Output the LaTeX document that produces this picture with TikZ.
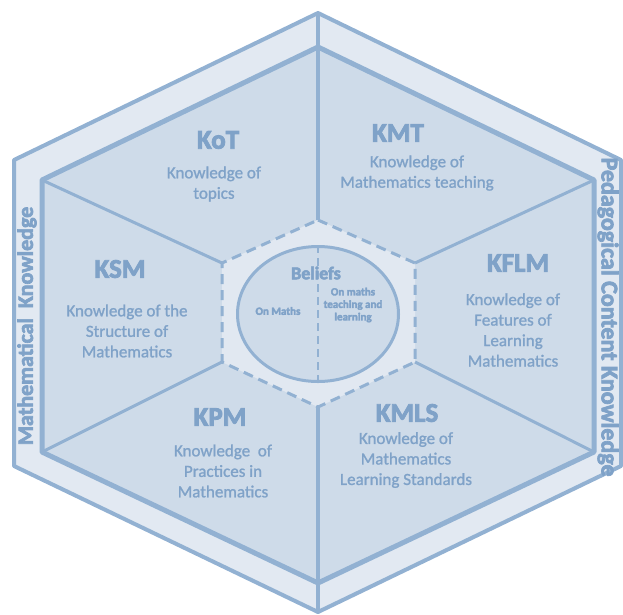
\documentclass[tikz,border=0pt]{standalone}
\usepackage{fontspec}
\setmainfont{Carlito}[UprightFeatures={FakeBold=1.2}, BoldFeatures={FakeBold=3}]
\usetikzlibrary{shapes.geometric}
\definecolor{bandc}{HTML}{E2E9F2}
\definecolor{innerc}{HTML}{CEDBE9}
\definecolor{centerc}{HTML}{E1E8F1}
\definecolor{linec}{HTML}{92B1D2}
\definecolor{textc}{HTML}{7FA2C8}
\begin{document}
\begin{tikzpicture}[x=1pt,y=-1pt,
  bandshape/.style={fill=bandc, draw=linec, line width=4pt, line join=round},
  innershape/.style={fill=innerc, draw=linec, line width=5pt, line join=round},
  divider/.style={draw=linec, line width=3pt},
  spine/.style={draw=linec, line width=4.5pt},
  centershape/.style={fill=centerc, draw=linec, line width=3pt, dash pattern=on 10pt off 6pt},
  beliefshape/.style={fill=innerc, draw=linec, line width=3pt},
  splitline/.style={draw=linec, line width=2.5pt, dash pattern=on 8pt off 5pt},
  title/.style={text=textc, font=\bfseries\fontsize{27}{30}\selectfont},
  body/.style={text=textc, align=center, font=\fontsize{17}{20.5}\selectfont},
  small/.style={text=textc, align=center, font=\bfseries\fontsize{11}{12.5}\selectfont},
  side/.style={text=textc, font=\bfseries\fontsize{22}{24}\selectfont}]
\useasboundingbox (0,0) rectangle (623,614);
% outer hexagon
\coordinate (OT) at (318,13);
\coordinate (OTR) at (621,160);
\coordinate (OBR) at (621,466);
\coordinate (OB) at (318,612);
\coordinate (OBL) at (14,466);
\coordinate (OTL) at (14,160);
% inner hexagon
\coordinate (IT) at (318,47);
\coordinate (ITR) at (594,180);
\coordinate (IBR) at (594,452);
\coordinate (IB) at (318,583);
\coordinate (IBL) at (42,452);
\coordinate (ITL) at (42,180);
% central hexagon
\coordinate (CT) at (318,220);
\coordinate (CTR) at (415,263);
\coordinate (CBR) at (415,362);
\coordinate (CB) at (318,407);
\coordinate (CBL) at (222,362);
\coordinate (CTL) at (222,263);

\path[bandshape] (OT) -- (OTR) -- (OBR) -- (OB) -- (OBL) -- (OTL) -- cycle;
\path[innershape] (IT) -- (ITR) -- (IBR) -- (IB) -- (IBL) -- (ITL) -- cycle;
\draw[divider] (ITL) -- (CTL);
\draw[divider] (IBL) -- (CBL);
\draw[divider] (ITR) -- (CTR);
\draw[divider] (IBR) -- (CBR);
\draw[spine] (OT) -- (CT);
\draw[spine] (CB) -- (OB);
\path[centershape] (CT) -- (CTR) -- (CBR) -- (CB) -- (CBL) -- (CTL) -- cycle;
\node[beliefshape, ellipse, minimum width=161pt, minimum height=135pt, inner sep=0pt] (bel) at (318,314) {};
\draw[splitline] (bel.north) -- (bel.south);

% texts
\node[title] (kot) at (218,140) {KoT};
\node[body] (kotd) at (214,184) {Knowledge of\\topics};
\node[title] (kmt) at (398,133) {KMT};
\node[body] (kmtd) at (417,173) {Knowledge of\\Mathematics teaching};
\node[title] (ksm) at (120,269) {KSM};
\node[body] (ksmd) at (127,331) {Knowledge of the\\Structure of\\Mathematics};
\node[title] (kflm) at (518,263) {KFLM};
\node[body] (kflmd) at (513,330) {Knowledge of\\Features of\\Learning\\Mathematics};
\node[title] (kpm) at (220,417) {KPM};
\node[body] (kpmd) at (223,471) {Knowledge\ \ of\\Practices in\\Mathematics};
\node[title] (kmls) at (407,413) {KMLS};
\node[body] (kmlsd) at (406,460) {Knowledge of\\Mathematics\\Learning Standards};
\node[text=textc, font=\bfseries\fontsize{18}{20}\selectfont] (beliefs) at (316,273) {Beliefs};
\node[small] (onm) at (278,311) {On Maths};
\node[small] (ontl) at (353,305) {On maths\\teaching and\\learning};
\node[side, rotate=90] (mk) at (27,326) {Mathematical\ \ Knowledge};
\node[side, rotate=-90, font=\bfseries\fontsize{24}{26}\selectfont] (pck) at (608,317) {Pedagogical Content Knowledge};
\end{tikzpicture}
\end{document}
